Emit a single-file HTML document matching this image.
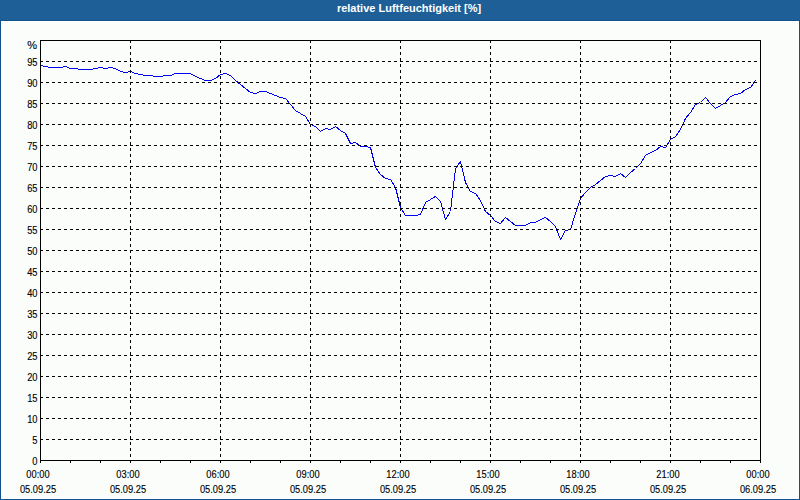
<!DOCTYPE html>
<html><head><meta charset="utf-8"><style>
html,body{margin:0;padding:0;}
body{width:800px;height:500px;overflow:hidden;position:relative;background:#fafdfa;font-family:"Liberation Sans",sans-serif;}
.frame{position:absolute;left:0;top:0;width:798px;height:498px;border:1px solid #10508c;}
.inner{position:absolute;left:1px;top:21px;width:796px;height:476px;border:1px solid #ffffff;}
.hdr{position:absolute;left:0;top:0;width:800px;height:20px;background:#1f5f97;border-bottom:1px solid #10508c;}
.title{position:absolute;left:0;top:2px;width:818px;text-align:center;color:#fff;font-weight:bold;font-size:11px;line-height:13px;}
svg{position:absolute;left:0;top:0;}
.yl{position:absolute;left:0;width:37.5px;text-align:right;font-size:10px;line-height:12px;color:#000;letter-spacing:0;transform:scaleX(0.93);transform-origin:37.5px 0;-webkit-text-stroke:0.12px #000;}
.xl{position:absolute;width:80px;text-align:center;font-size:10px;line-height:12px;color:#000;letter-spacing:0;transform:scaleX(0.93);-webkit-text-stroke:0.12px #000;}
</style></head><body>
<div class="frame"></div>
<div class="inner"></div>
<div class="hdr"><div class="title">relative Luftfeuchtigkeit [%]</div></div>
<svg width="800" height="500" viewBox="0 0 800 500">
<polyline points="40.5,65.5 45.5,66.5 50.5,67.5 55.5,67.5 60.5,67.5 65.5,66.5 70.5,68.5 75.5,68.5 80.5,69.5 85.5,69.5 90.5,69.5 95.5,68.5 100.5,67.5 105.5,68.5 110.5,67.5 115.5,68.5 120.5,71.5 125.5,72.5 130.5,71.5 135.5,73.5 140.5,74.5 145.5,75.5 150.5,75.5 155.5,76.5 160.5,76.5 165.5,75.5 170.5,75.5 175.5,73.5 180.5,73.5 185.5,73.5 190.5,73.5 195.5,76.5 200.5,78.5 205.5,80.5 210.5,80.5 215.5,78.5 220.5,74.5 225.5,73.5 230.5,75.5 235.5,80.5 240.5,84.5 245.5,88.5 250.5,92.5 255.5,93.5 260.5,91.5 265.5,91.5 270.5,93.5 275.5,95.5 280.5,97.5 285.5,98.5 290.5,104.5 295.5,110.5 300.5,113.5 305.5,116.5 310.5,124.5 315.5,126.5 320.5,131.5 325.5,128.5 330.5,129.5 335.5,126.5 340.5,130.5 345.5,133.5 350.5,143.5 355.5,142.5 360.5,146.5 365.5,146.5 370.5,147.5 375.5,167.5 380.5,174.5 385.5,178.5 390.5,179.5 395.5,187.5 400.5,207.5 405.5,215.5 410.5,215.5 415.5,215.5 420.5,214.5 425.5,202.5 430.5,199.5 435.5,196.5 440.5,201.5 445.5,219.5 450.5,211.5 455.5,168.5 460.5,161.5 465.5,182.5 470.5,191.5 475.5,193.5 480.5,200.5 485.5,211.5 490.5,215.5 495.5,221.5 500.5,223.5 505.5,217.5 510.5,221.5 515.5,225.5 520.5,225.5 525.5,225.5 530.5,222.5 535.5,222.5 540.5,219.5 545.5,217.5 550.5,221.5 555.5,226.5 560.5,239.5 565.5,230.5 570.5,229.5 575.5,213.5 580.5,198.5 585.5,192.5 590.5,187.5 595.5,184.5 600.5,180.5 605.5,176.5 610.5,175.5 615.5,176.5 620.5,173.5 625.5,177.5 630.5,172.5 635.5,168.5 640.5,163.5 645.5,155.5 650.5,152.5 655.5,150.5 660.5,146.5 665.5,147.5 670.5,139.5 675.5,136.5 680.5,129.5 685.5,118.5 690.5,112.5 695.5,104.5 700.5,102.5 705.5,97.5 710.5,103.5 715.5,108.5 720.5,105.5 725.5,102.5 730.5,96.5 735.5,94.5 740.5,93.5 745.5,89.5 750.5,87.5 755.5,80.5" stroke="#0000f0" stroke-width="1" fill="none" shape-rendering="crispEdges"/>
<path d="M40 61.5H760M40 82.5H760M40 103.5H760M40 124.5H760M40 145.5H760M40 166.5H760M40 187.5H760M40 208.5H760M40 229.5H760M40 250.5H760M40 271.5H760M40 292.5H760M40 313.5H760M40 334.5H760M40 355.5H760M40 376.5H760M40 397.5H760M40 418.5H760M40 439.5H760M130.5 40V460M220.5 40V460M310.5 40V460M400.5 40V460M490.5 40V460M580.5 40V460M670.5 40V460" stroke="#000" stroke-width="1" stroke-dasharray="3 3" fill="none" shape-rendering="crispEdges"/>
<path d="M40.5 40.5H760.5V460.5H40.5Z" stroke="#000" stroke-width="1" fill="none" shape-rendering="crispEdges"/>
<path d="M40.5 460V463M70.5 460V463M100.5 460V463M130.5 460V463M160.5 460V463M190.5 460V463M220.5 460V463M250.5 460V463M280.5 460V463M310.5 460V463M340.5 460V463M370.5 460V463M400.5 460V463M430.5 460V463M460.5 460V463M490.5 460V463M520.5 460V463M550.5 460V463M580.5 460V463M610.5 460V463M640.5 460V463M670.5 460V463M700.5 460V463M730.5 460V463M760.5 460V463" stroke="#000" stroke-width="1" fill="none" shape-rendering="crispEdges"/>
</svg>
<div class="yl" style="top:456px">0</div><div class="yl" style="top:435px">5</div><div class="yl" style="top:414px">10</div><div class="yl" style="top:393px">15</div><div class="yl" style="top:372px">20</div><div class="yl" style="top:351px">25</div><div class="yl" style="top:330px">30</div><div class="yl" style="top:309px">35</div><div class="yl" style="top:288px">40</div><div class="yl" style="top:267px">45</div><div class="yl" style="top:246px">50</div><div class="yl" style="top:225px">55</div><div class="yl" style="top:204px">60</div><div class="yl" style="top:183px">65</div><div class="yl" style="top:162px">70</div><div class="yl" style="top:141px">75</div><div class="yl" style="top:120px">80</div><div class="yl" style="top:99px">85</div><div class="yl" style="top:78px">90</div><div class="yl" style="top:57px">95</div><div class="yl" style="top:39px;font-size:11px;letter-spacing:0;transform:none;width:37px">%</div>
<div class="xl" style="left:-2px;top:469px">00:00</div><div class="xl" style="left:-2px;top:484px">05.09.25</div><div class="xl" style="left:88px;top:469px">03:00</div><div class="xl" style="left:88px;top:484px">05.09.25</div><div class="xl" style="left:178px;top:469px">06:00</div><div class="xl" style="left:178px;top:484px">05.09.25</div><div class="xl" style="left:268px;top:469px">09:00</div><div class="xl" style="left:268px;top:484px">05.09.25</div><div class="xl" style="left:358px;top:469px">12:00</div><div class="xl" style="left:358px;top:484px">05.09.25</div><div class="xl" style="left:448px;top:469px">15:00</div><div class="xl" style="left:448px;top:484px">05.09.25</div><div class="xl" style="left:538px;top:469px">18:00</div><div class="xl" style="left:538px;top:484px">05.09.25</div><div class="xl" style="left:628px;top:469px">21:00</div><div class="xl" style="left:628px;top:484px">05.09.25</div><div class="xl" style="left:718px;top:469px">00:00</div><div class="xl" style="left:718px;top:484px">06.09.25</div>
</body></html>
